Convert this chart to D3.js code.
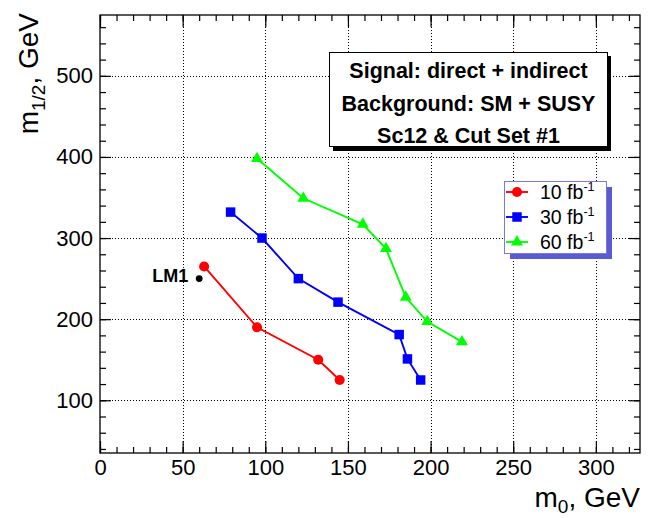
<!DOCTYPE html>
<html><head><meta charset="utf-8">
<script src="https://cdn.jsdelivr.net/npm/d3@7"></script>
<style>body{margin:0;background:#fff}svg{display:block;font-family:"Liberation Sans",Arial,Helvetica,sans-serif}</style>
</head><body><svg id="c" width="648" height="518"></svg>
<script>
// ---- data ----
const m0_10 = [63, 95, 132, 145];
const m12_10 = [265, 190, 150, 125];
const m0_30 = [79, 98, 120, 144, 181, 186, 194];
const m12_30 = [332, 300, 250, 221, 181, 151, 125];
const m0_60 = [95, 123, 159, 173, 185, 198, 219];
const m12_60 = [398, 349, 317, 287, 227, 197, 172];
const lm1 = {label: "LM1", m0: 60, m12: 250};
const xTicks = [0, 50, 100, 150, 200, 250, 300];
const yTicks = [100, 200, 300, 400, 500];
const xMinor = d3.range(0, 330, 10);
const yMinor = d3.range(40, 576, 20);
const legendLabels = ["10 fb", "30 fb", "60 fb"];
const boxLines = ["Signal: direct + indirect", "Background: SM + SUSY", "Sc12 & Cut Set #1"];

const series = [
  {name: legendLabels[0], xs: m0_10, ys: m12_10, color: "#ff0000", marker: d3.symbolCircle, size: 80},
  {name: legendLabels[1], xs: m0_30, ys: m12_30, color: "#0000ff", marker: d3.symbolSquare, size: 90},
  {name: legendLabels[2], xs: m0_60, ys: m12_60, color: "#00ff00", marker: d3.symbolTriangle, size: 62}
];

const L = 100, R = 640, T = 15, B = 453;
const x = d3.scaleLinear().domain([0, 326.7]).range([L, R]);
const y = d3.scaleLinear().domain([35, 575]).range([B, T]);
const svg = d3.select("#c");

// grid
const grid = svg.append("g").attr("stroke", "#000").attr("stroke-width", 1).attr("stroke-dasharray", "1,2");
grid.selectAll(".gx").data(xTicks.filter(d => d > 0)).join("line")
  .attr("x1", d => Math.round(x(d)) + 0.5).attr("x2", d => Math.round(x(d)) + 0.5).attr("y1", T).attr("y2", B);
grid.selectAll(".gy").data(yTicks).join("line")
  .attr("y1", d => Math.round(y(d)) + 0.5).attr("y2", d => Math.round(y(d)) + 0.5).attr("x1", L).attr("x2", R);

// axes
function styleAxis(g, showText) {
  g.select(".domain").remove();
  g.selectAll("line").attr("stroke", "#000").attr("stroke-width", 1.2);
  g.selectAll("text").attr("font-size", 22).attr("fill", "#000");
  if (!showText) g.selectAll("text").remove();
}
svg.append("g").attr("transform", `translate(0,${B})`)
  .call(d3.axisBottom(x).tickValues(xTicks).tickSize(-12).tickPadding(6).tickFormat(d3.format("d"))).call(g => styleAxis(g, true));
svg.append("g").attr("transform", `translate(0,${B})`)
  .call(d3.axisBottom(x).tickValues(xMinor).tickSize(-6)).call(g => styleAxis(g, false));
svg.append("g").attr("transform", `translate(0,${T})`)
  .call(d3.axisTop(x).tickValues(xTicks).tickSize(-12)).call(g => styleAxis(g, false));
svg.append("g").attr("transform", `translate(0,${T})`)
  .call(d3.axisTop(x).tickValues(xMinor).tickSize(-6)).call(g => styleAxis(g, false));
svg.append("g").attr("transform", `translate(${L},0)`)
  .call(d3.axisLeft(y).tickValues(yTicks).tickSize(-11).tickPadding(7).tickFormat(d3.format("d"))).call(g => styleAxis(g, true));
svg.append("g").attr("transform", `translate(${L},0)`)
  .call(d3.axisLeft(y).tickValues(yMinor).tickSize(-6)).call(g => styleAxis(g, false));
svg.append("g").attr("transform", `translate(${R},0)`)
  .call(d3.axisRight(y).tickValues(yTicks).tickSize(-11)).call(g => styleAxis(g, false));
svg.append("g").attr("transform", `translate(${R},0)`)
  .call(d3.axisRight(y).tickValues(yMinor).tickSize(-6)).call(g => styleAxis(g, false));

// frame
svg.append("rect").attr("x", L).attr("y", T).attr("width", R - L).attr("height", B - T)
  .attr("fill", "none").attr("stroke", "#000").attr("stroke-width", 1.3);

// axis titles
const xt = svg.append("text").attr("x", R).attr("y", 507).attr("text-anchor", "end").attr("font-size", 28).attr("fill", "#000");
xt.append("tspan").text("m");
xt.append("tspan").attr("font-size", 19).attr("dy", 6).text("0");
xt.append("tspan").attr("dy", -6).text(", GeV");
const yt = svg.append("text").attr("transform", "translate(38,13) rotate(-90)").attr("text-anchor", "end").attr("font-size", 28).attr("fill", "#000");
yt.append("tspan").text("m");
yt.append("tspan").attr("font-size", 19).attr("dy", 7).text("1/2");
yt.append("tspan").attr("dy", -7).text(", GeV");

// text box
svg.append("rect").attr("x", 333).attr("y", 56).attr("width", 278).attr("height", 95).attr("fill", "#000");
svg.append("rect").attr("x", 329.5).attr("y", 52.5).attr("width", 278).attr("height", 94).attr("fill", "#fff").attr("stroke", "#000").attr("stroke-width", 1);
svg.selectAll(".bt").data(boxLines).join("text")
  .attr("x", 468.5).attr("y", (d, i) => 78 + i * 32.5).attr("text-anchor", "middle")
  .attr("font-size", 21.5).attr("font-weight", "bold").attr("fill", "#000").text(d => d);

// series
const line = d3.line().x(d => x(d[0])).y(d => y(d[1]));
series.forEach(s => {
  const pts = s.xs.map((v, i) => [v, s.ys[i]]);
  svg.append("path").datum(pts).attr("d", line).attr("fill", "none").attr("stroke", s.color).attr("stroke-width", 1.9);
  svg.selectAll(null).data(pts).join("path")
    .attr("transform", d => `translate(${x(d[0])},${y(d[1])})`)
    .attr("d", d3.symbol().type(s.marker).size(s.size)).attr("fill", s.color);
});

// LM1
svg.append("circle").attr("cx", x(lm1.m0)).attr("cy", y(lm1.m12)).attr("r", 3.4).attr("fill", "#000");
svg.append("text").attr("x", x(lm1.m0) - 11).attr("y", y(lm1.m12) + 3).attr("text-anchor", "end")
  .attr("font-size", 18).attr("font-weight", "bold").attr("fill", "#000").text(lm1.label);

// legend
const lx = 504, ly = 181, lw = 102, lh = 72;
svg.append("rect").attr("x", lx + 6).attr("y", ly + 6).attr("width", lw).attr("height", lh).attr("fill", "#5a5ad2");
svg.append("rect").attr("x", lx + 0.5).attr("y", ly + 0.5).attr("width", lw).attr("height", lh).attr("fill", "#fff").attr("stroke", "#7a7ad8").attr("stroke-width", 1);
series.forEach((s, i) => {
  const cy = ly + 11 + i * 25;
  svg.append("line").attr("x1", lx + 2).attr("x2", lx + 24).attr("y1", cy).attr("y2", cy).attr("stroke", s.color).attr("stroke-width", 1.9);
  svg.append("path").attr("transform", `translate(${lx + 13},${cy})`).attr("d", d3.symbol().type(s.marker).size(s.size)).attr("fill", s.color);
  const t = svg.append("text").attr("x", lx + 36).attr("y", cy + 7).attr("font-size", 19.5).attr("fill", "#000");
  t.append("tspan").text(s.name);
  t.append("tspan").attr("font-size", 12.5).attr("dy", -8).text("-1");
});
</script></body></html>
